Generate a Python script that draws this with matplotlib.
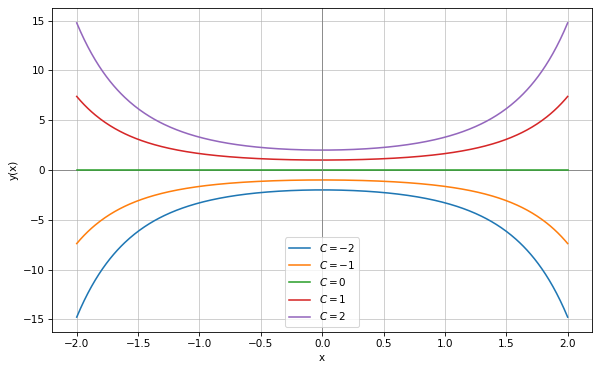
import numpy as np
import matplotlib.pyplot as plt

# constants for y = C*exp(x^2/2)
C_values = [-2, -1, 0, 1, 2]
x_min, x_max = -2.0, 2.0

x = np.linspace(x_min, x_max, 400)

fig, ax = plt.subplots(figsize=(8, 4.96), dpi=75)
ax.axhline(0, color='gray', lw=0.8)
for C in C_values:
    ax.plot(x, C*np.exp(x**2/2), label=r'$C = %d$' % C)
ax.axvline(0, color='gray', lw=0.8)

ax.set_xlabel('x')
ax.set_ylabel('y(x)')
ax.grid(True, alpha=0.7)
ax.legend()
fig.subplots_adjust(left=0.087, right=0.987, top=0.978, bottom=0.108)
fig.savefig('out.png')
